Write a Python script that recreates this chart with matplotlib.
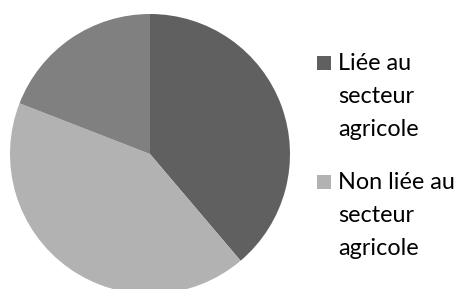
import matplotlib
matplotlib.use("Agg")
import matplotlib.pyplot as plt
from matplotlib.patches import Rectangle

categories = ["Liée au\nsecteur\nagricole", "Non liée au\nsecteur\nagricole", ""]
values = [38.8, 42.1, 19.1]
colors = ["#606060", "#b2b2b2", "#808080"]

W, H = 460, 289
fig = plt.figure(figsize=(W / 100, H / 100), dpi=100)
fig.patch.set_facecolor("white")

# pie axes: centre (150, 154) px from top-left, radius 140 px
cx, cy, r = 150, 154, 140
ax = fig.add_axes([(cx - r) / W, (H - cy - r) / H, 2 * r / W, 2 * r / H])
ax.pie(values, colors=colors, startangle=90, counterclock=False,
       wedgeprops=dict(linewidth=0), radius=1)
ax.set_xlim(-1, 1)
ax.set_ylim(-1, 1)
ax.set_aspect("equal")
ax.axis("off")

# legend (first two categories)
fs = 16.8
line_h = 33
group_top_baseline = [70, 189]
sq = 14
for i in range(2):
    b0 = group_top_baseline[i]
    fig.patches.append(Rectangle((317 / W, (H - b0) / H), sq / W, sq / H,
                                 transform=fig.transFigure, facecolor=colors[i],
                                 edgecolor="none"))
    for j, line in enumerate(categories[i].split("\n")):
        fig.text(338 / W, (H - (b0 + j * line_h)) / H, line, fontsize=fs,
                 family="Lato", va="baseline", ha="left", color="#000000")

fig.savefig("out.png", dpi=100)
